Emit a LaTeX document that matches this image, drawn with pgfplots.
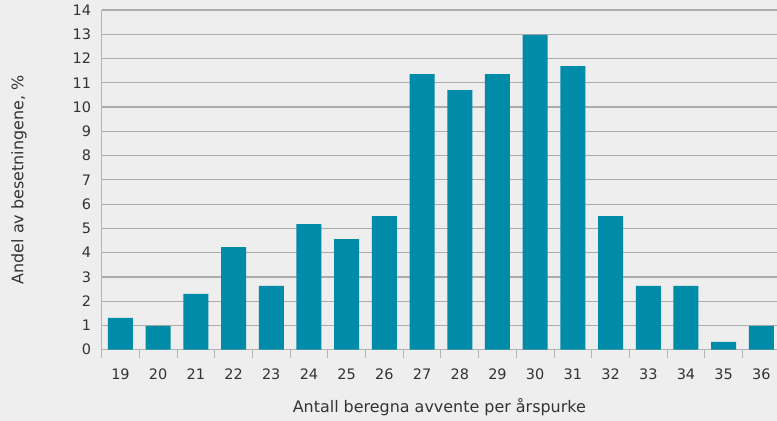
\documentclass[border=0pt]{standalone}
\usepackage{pgfplots}
\pgfplotsset{compat=1.18}
\usepackage{fontspec}
\setmainfont{DejaVu Sans}
\definecolor{bg}{HTML}{EEEEEE}
\definecolor{barc}{HTML}{008CA8}
\definecolor{gridc}{HTML}{ACACAC}
\definecolor{axc}{HTML}{B4B4B4}
\definecolor{txt}{HTML}{333333}
\begin{document}
\begin{tikzpicture}
\fill[bg] (0bp,0bp) rectangle (777bp,421bp);
\path[use as bounding box] (0bp,0bp) rectangle (777bp,421bp);
\begin{axis}[
  at={(101.6bp,71.3bp)}, anchor=south west,
  scale only axis, width=675.4bp, height=339.7bp,
  xmin=18.5, xmax=36.415, ymin=0, ymax=14,
  axis x line*=bottom, axis y line*=left,
  axis line style={axc, line width=1bp},
  ytick={0,...,14}, xtick={19,...,36},
  minor xtick={18.5,19.5,...,35.5},
  tick align=inside,
  major tick length=0pt,
  minor tick length=8.5bp,
  minor tick style={axc, line width=1bp},
  ymajorgrids,
  grid style={gridc, line width=1.2bp},
  /pgf/number format/assume math mode=true,
  ticklabel style={font=\fontsize{14.5}{16}\selectfont, text=txt},
  xticklabel style={anchor=base, yshift=-29.5bp},
  yticklabel style={anchor=east, xshift=-7bp},
  xlabel={Antall beregna avvente per årspurke},
  ylabel={Andel av besetningene, \%},
  every axis x label/.style={at={(axis description cs:0.5,-0.1687)}, anchor=center, font=\fontsize{16}{18}\selectfont, text=txt},
  every axis y label/.style={at={(axis description cs:-0.1223,0.5)}, anchor=center, rotate=90, font=\fontsize{16}{18}\selectfont, text=txt},
  ybar, bar width=25bp, bar shift=0pt,
  clip=true,
]
\addplot[fill=barc, draw=none] coordinates {
(19,1.31) (20,0.98) (21,2.30) (22,4.23) (23,2.63) (24,5.18) (25,4.56) (26,5.51)
(27,11.36) (28,10.70) (29,11.36) (30,12.97) (31,11.69) (32,5.51) (33,2.63)
(34,2.63) (35,0.32) (36,0.98)
};
\end{axis}
\end{tikzpicture}
\end{document}
